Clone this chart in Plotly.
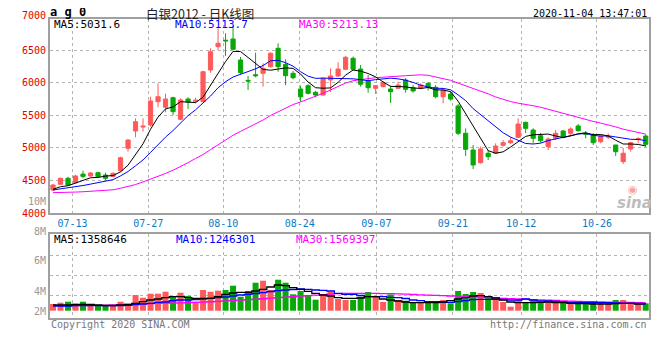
import plotly.graph_objects as go

# ---------------- data ----------------
date_labels = ["07-13", "07-27", "08-10", "08-24", "09-07", "09-21", "10-12", "10-26"]
date_label_pos = [2.6, 12.7, 22.7, 32.9, 43.1, 53.3, 62.4, 72.5]

open_ = [4357, 4444, 4536, 4468, 4600, 4571, 4622, 4586, 4565, 4652,
         4995, 5260, 5320, 5352, 5709, 5623, 5770, 5439, 5750, 5715,
         5709, 6194, 6551, 6650, 6669, 6347, 6035, 6122, 6143, 6244,
         6526, 6281, 6143, 5903, 5954, 5852, 5811, 6041, 6102, 6205,
         6373, 6209, 6025, 5914, 5939, 5903, 5914, 6041, 5923, 5914,
         5990, 5929, 5785, 5826, 5643, 5225, 4969, 4775, 4919, 4919,
         5041, 5081, 5164, 5393, 5275, 5188, 5020, 5148, 5260, 5225,
         5337, 5220, 5199, 5096, 5165, 5046, 4790, 4985, 5130, 5183]
high = [4450, 4545, 4560, 4590, 4652, 4632, 4637, 4622, 4627, 4867,
        5135, 5454, 5454, 5785, 5990, 5832, 5785, 5760, 5775, 5770,
        6180, 6526, 6832, 6756, 6868, 6393, 6102, 6459, 6297, 6465,
        6602, 6358, 6180, 5954, 5975, 5875, 6082, 6220, 6312, 6410,
        6400, 6270, 6117, 5964, 6025, 5954, 6015, 6070, 5964, 5990,
        6010, 5964, 5914, 5862, 5674, 5301, 5046, 5020, 4969, 5071,
        5122, 5164, 5454, 5403, 5301, 5230, 5163, 5275, 5275, 5316,
        5367, 5260, 5230, 5209, 5225, 5046, 5000, 5096, 5163, 5209]
low = [4340, 4440, 4423, 4460, 4536, 4560, 4551, 4510, 4555, 4637,
       4943, 5164, 5250, 5326, 5623, 5546, 5505, 5430, 5597, 5684,
       5700, 6153, 6500, 6410, 6505, 6130, 5888, 6082, 5939, 6230,
       6168, 5960, 6050, 5709, 5820, 5775, 5800, 5857, 6090, 6195,
       6190, 5939, 5847, 5826, 5929, 5689, 5905, 5847, 5847, 5898,
       5880, 5760, 5684, 5724, 5199, 4877, 4678, 4760, 4816, 4910,
       5020, 5061, 5148, 5230, 5071, 5081, 4969, 5122, 5148, 5173,
       5250, 5148, 5046, 5071, 5137, 4878, 4755, 4943, 5071, 5020]
close = [4433, 4536, 4433, 4571, 4565, 4617, 4561, 4536, 4612, 4851,
         5122, 5402, 5335, 5719, 5785, 5750, 5556, 5735, 5704, 5730,
         6168, 6474, 6603, 6640, 6511, 6153, 6025, 6107, 6220, 6450,
         6244, 6107, 6076, 5785, 5837, 5811, 6067, 6102, 6209, 6388,
         6205, 5975, 5923, 5954, 6000, 5862, 5964, 5898, 5873, 5964,
         5929, 5785, 5888, 5750, 5225, 4980, 4740, 4985, 4867, 5030,
         5081, 5111, 5367, 5301, 5148, 5111, 5137, 5225, 5173, 5291,
         5265, 5210, 5081, 5183, 5180, 4943, 4919, 5081, 5145, 5056]

ma5 = [4367, 4407, 4422, 4459, 4508, 4544, 4549, 4570, 4578, 4635,
       4736, 4905, 5064, 5286, 5473, 5598, 5629, 5709, 5706, 5695,
       5779, 5962, 6136, 6323, 6479, 6476, 6386, 6287, 6203, 6191,
       6209, 6226, 6219, 6132, 6010, 5923, 5915, 5920, 6005, 6115,
       6194, 6176, 6140, 6089, 6011, 5943, 5941, 5936, 5919, 5912,
       5926, 5890, 5888, 5863, 5715, 5526, 5317, 5136, 4959, 4920,
       4941, 5015, 5091, 5178, 5202, 5208, 5213, 5184, 5159, 5187,
       5218, 5233, 5204, 5206, 5184, 5119, 5061, 5061, 5054, 5032]
ma10 = [4357, 4372, 4388, 4405, 4425, 4447, 4466, 4485, 4515, 4572,
        4640, 4727, 4817, 4932, 5054, 5167, 5267, 5387, 5496, 5584,
        5688, 5796, 5922, 6015, 6087, 6127, 6174, 6212, 6263, 6335,
        6343, 6306, 6253, 6168, 6100, 6066, 6070, 6070, 6069, 6063,
        6059, 6046, 6030, 6047, 6063, 6069, 6058, 6038, 6004, 5962,
        5934, 5915, 5912, 5891, 5814, 5726, 5603, 5512, 5411, 5318,
        5233, 5166, 5114, 5069, 5061, 5074, 5114, 5138, 5168, 5195,
        5213, 5223, 5194, 5182, 5186, 5169, 5147, 5133, 5130, 5114]
ma30 = [4316, 4316, 4318, 4325, 4330, 4335, 4340, 4345, 4360, 4383,
        4410, 4440, 4480, 4520, 4565, 4610, 4660, 4715, 4775, 4840,
        4900, 4975, 5049, 5124, 5195, 5254, 5309, 5367, 5428, 5497,
        5557, 5610, 5665, 5705, 5747, 5787, 5837, 5889, 5943, 5994,
        6030, 6049, 6069, 6077, 6084, 6088, 6102, 6107, 6113, 6121,
        6113, 6090, 6066, 6036, 5993, 5954, 5911, 5874, 5829, 5782,
        5743, 5710, 5686, 5670, 5647, 5624, 5593, 5564, 5529, 5492,
        5461, 5435, 5407, 5381, 5354, 5323, 5288, 5261, 5237, 5213]

# volume in millions
volume_m = [1.29, 1.54, 1.73, 1.35, 1.73, 1.10, 1.10, 1.10, 1.10, 1.73,
            1.10, 3.02, 2.50, 3.27, 3.27, 3.65, 2.83, 3.46, 2.83, 1.73,
            3.98, 3.65, 3.85, 3.98, 4.81, 2.69, 3.79, 5.38, 5.77, 3.98,
            5.96, 5.38, 3.15, 3.79, 3.02, 2.12, 3.02, 3.65, 2.25, 2.06,
            2.06, 2.69, 3.60, 2.69, 1.67, 3.15, 2.06, 1.92, 1.54, 1.54,
            1.73, 1.73, 2.06, 1.42, 3.79, 3.21, 3.60, 3.40, 2.69, 2.19,
            1.67, 0.77, 2.25, 1.67, 2.06, 1.73, 1.73, 1.73, 1.54, 1.73,
            1.67, 1.54, 1.54, 1.42, 1.42, 2.06, 2.06, 1.54, 1.54, 1.42]
vol_ma5 = [1.10, 1.10, 1.10, 1.23, 1.23, 1.19, 1.10, 1.00, 1.00, 1.10,
           1.19, 1.42, 1.73, 2.06, 2.25, 2.50, 2.69, 2.69, 2.50, 2.38,
           2.38, 2.38, 2.69, 3.15, 3.40, 3.54, 3.54, 3.79, 4.12, 4.56,
           4.94, 4.81, 4.42, 4.12, 3.73, 3.35, 3.02, 2.83, 2.50, 2.38,
           2.38, 2.44, 2.69, 2.69, 2.25, 2.06, 1.87, 1.67, 1.54, 1.54,
           1.54, 1.54, 1.67, 1.92, 2.25, 2.50, 2.83, 2.88, 2.69, 2.44,
           2.06, 1.67, 1.54, 1.54, 1.54, 1.62, 1.67, 1.58, 1.54, 1.42,
           1.38, 1.35, 1.29, 1.29, 1.29, 1.35, 1.42, 1.42, 1.29, 1.36]
vol_ma10 = [0.90, 0.90, 0.90, 0.96, 0.96, 0.96, 0.96, 0.96, 0.96, 0.96,
            1.04, 1.19, 1.29, 1.42, 1.62, 1.67, 1.92, 2.06, 2.06, 2.15,
            2.25, 2.38, 2.50, 2.63, 2.83, 3.02, 3.15, 3.31, 3.46, 3.69,
            3.85, 3.98, 4.08, 4.17, 4.12, 3.98, 3.92, 3.79, 3.35, 3.15,
            3.15, 2.92, 2.69, 2.69, 2.69, 2.58, 2.50, 2.35, 2.06, 1.92,
            1.73, 1.73, 1.62, 1.62, 1.77, 1.92, 2.15, 2.19, 2.19, 2.19,
            2.15, 2.06, 2.06, 2.25, 2.06, 1.87, 1.87, 1.77, 1.67, 1.62,
            1.62, 1.62, 1.58, 1.54, 1.54, 1.48, 1.42, 1.42, 1.38, 1.25]
vol_ma30 = [0.96, 0.96, 0.96, 0.98, 1.00, 1.02, 1.04, 1.06, 1.10, 1.15,
            1.20, 1.25, 1.30, 1.36, 1.40, 1.44, 1.48, 1.52, 1.56, 1.60,
            1.65, 1.72, 1.80, 1.88, 1.96, 2.04, 2.12, 2.20, 2.30, 2.40,
            2.50, 2.60, 2.70, 2.80, 2.90, 3.00, 3.10, 3.20, 3.28, 3.33,
            3.35, 3.35, 3.35, 3.33, 3.30, 3.27, 3.23, 3.18, 3.12, 3.06,
            3.00, 2.94, 2.88, 2.83, 2.80, 2.76, 2.70, 2.62, 2.52, 2.44,
            2.38, 2.32, 2.26, 2.20, 2.14, 2.08, 2.02, 1.96, 1.90, 1.85,
            1.80, 1.76, 1.72, 1.68, 1.65, 1.62, 1.60, 1.58, 1.57, 1.57]

price_ticks = [4000, 4500, 5000, 5500, 6000, 6500]
vol_labels = ["8M", "6M", "4M", "2M"]

# ---------------- styling ----------------
RED = "#ff5a5a"
GREEN = "#08a808"
MONO = "DejaVu Sans Mono"
GRID = "#b4b4b4"
BORDER = "#a0a0a0"

# the page body has an 8px default margin: build the figure 8px smaller and
# express every screen position in window pixels, converted below
OFF = 8
SW, SH = 660, 360                      # window size
W, H = SW - OFF, SH - OFF              # figure size
PLOT_L, PLOT_R, PLOT_T, PLOT_B = 50, 649, 19, 318   # plot area in window pixels
ML, MR, MT, MB = PLOT_L - OFF, SW - PLOT_R, PLOT_T - OFF, SH - PLOT_B
PW, PH = W - ML - MR, H - MT - MB


def px(x, y):
    return (x - PLOT_L) / PW, (PLOT_B - y) / PH


main_bottom = 213.3
vol_top = 234.3

idx = list(range(len(close)))

fig = go.Figure()
fig.add_trace(go.Candlestick(
    x=idx, open=open_, high=high, low=low, close=close,
    increasing=dict(line=dict(color=RED, width=1), fillcolor=RED),
    decreasing=dict(line=dict(color=GREEN, width=1), fillcolor=GREEN),
    whiskerwidth=0, xaxis="x", yaxis="y", hoverinfo="skip", showlegend=False))
for arr, col in [(ma30, "#ff00ff"), (ma10, "#0000ff"), (ma5, "#000000")]:
    fig.add_trace(go.Scatter(x=idx, y=arr, mode="lines", line=dict(color=col, width=1),
                             xaxis="x", yaxis="y", hoverinfo="skip", showlegend=False))

bar_colors = [RED if c >= o else GREEN for o, c in zip(open_, close)]
fig.add_trace(go.Bar(x=idx, y=volume_m, width=0.8, marker=dict(color=bar_colors, line=dict(width=0)),
                     xaxis="x2", yaxis="y2", hoverinfo="skip", showlegend=False))
for arr, col in [(vol_ma30, "#ff00ff"), (vol_ma10, "#0000ff"), (vol_ma5, "#000000")]:
    fig.add_trace(go.Scatter(x=idx, y=arr, mode="lines", line=dict(color=col, width=1.3, shape="hvh"),
                             xaxis="x2", yaxis="y2", hoverinfo="skip", showlegend=False))

xr = [-0.4, 79.44]
common_x = dict(range=xr, tickvals=date_label_pos, showgrid=True, gridcolor=GRID, griddash="dot",
                gridwidth=1, showline=True, mirror=True, linecolor=BORDER, linewidth=2,
                ticks="", zeroline=False, fixedrange=True)

main_dom = [(PLOT_B - main_bottom) / PH, 1]
vol_dom = [0, (PLOT_B - vol_top) / PH]
# volume scale: 0 at bar base (y=310.7px), 5.2 px per million
v_lo = -(PLOT_B - 310.7) / 5.2
v_hi = (310.7 - vol_top) / 5.2
vol_grid = [(310.7 - yy) / 5.2 for yy in (295.7, 275.7, 255.7)]

fig.update_layout(
    width=W, height=H, margin=dict(l=ML, r=MR, t=MT, b=MB, autoexpand=False),
    paper_bgcolor="white", plot_bgcolor="white", showlegend=False, boxgap=0.2,
    xaxis=dict(common_x, anchor="y", ticktext=date_labels, showticklabels=True,
               tickfont=dict(family=MONO, size=10, color="#0a7bc8"),
               rangeslider=dict(visible=False)),
    yaxis=dict(domain=main_dom, anchor="x", range=[4000, 6975], tickvals=price_ticks,
               ticktext=[str(v) for v in price_ticks], tickfont=dict(family=MONO, size=10, color="#e00000"),
               showgrid=True, gridcolor=GRID, griddash="dot", gridwidth=1, showline=True, mirror=True,
               linecolor=BORDER, linewidth=2, ticks="", zeroline=False, fixedrange=True),
    xaxis2=dict(common_x, anchor="y2", showticklabels=False),
    yaxis2=dict(domain=vol_dom, anchor="x2", range=[v_lo, v_hi], tickvals=vol_grid,
                showticklabels=False, showgrid=True, gridcolor=GRID, griddash="dot", gridwidth=1,
                showline=True, mirror=True, linecolor=BORDER, linewidth=2, ticks="", zeroline=False,
                fixedrange=True),
)

anns = []


def add_text(text, x, y, color, size, anchor="left", family=MONO, bold=False):
    ax, ay = px(x, y)
    anns.append(dict(text=("<b>%s</b>" % text) if bold else text, x=ax, y=ay, xref="paper", yref="paper",
                     xanchor=anchor, yanchor="middle", showarrow=False,
                     font=dict(family=family, size=size, color=color)))


add_text("a g 0", 48, 12, "#000000", 12, bold=True)
add_text("白银2012 - 日K线图", 200, 13, "#222222", 12.5, anchor="center", family="Noto Sans CJK SC")
add_text("2020-11-04 13:47:01", 649, 13, "#000000", 10, anchor="right")
add_text("7000", 48, 15, "#e00000", 10, anchor="right")
add_text("10M", 48, 201, "#999999", 10, anchor="right")
for lab, yy in zip(vol_labels, (231, 260.5, 291, 311)):
    add_text(lab, 48, yy, "#999999", 10, anchor="right")

add_text("MA5:%.1f" % 5031.6, 52, 25, "#000000", 11)
add_text("MA10:%.1f" % 5113.7, 173, 25, "#0000ff", 11)
add_text("MA30:%.2f" % 5213.13, 297, 25, "#ff00ff", 11)
add_text("MA5:%d" % 1358646, 52, 239.5, "#000000", 11)
add_text("MA10:%d" % 1246301, 174, 239.5, "#0000ff", 11)
add_text("MA30:%d" % 1569397, 294, 239.5, "#ff00ff", 11)

add_text("Copyright 2020 SINA.COM", 49, 324, "#777777", 10)
add_text("http://finance.sina.com.cn", 649, 324, "#777777", 10, anchor="right")

add_text("◉", 633, 189, "#f4a6a6", 11, anchor="center", family="DejaVu Sans")
add_text("<i>sina</i>", 634, 203, "#bdbdbd", 15, anchor="center", family="DejaVu Sans", bold=True)

fig.update_layout(annotations=anns)
fig.write_html("out.html")
